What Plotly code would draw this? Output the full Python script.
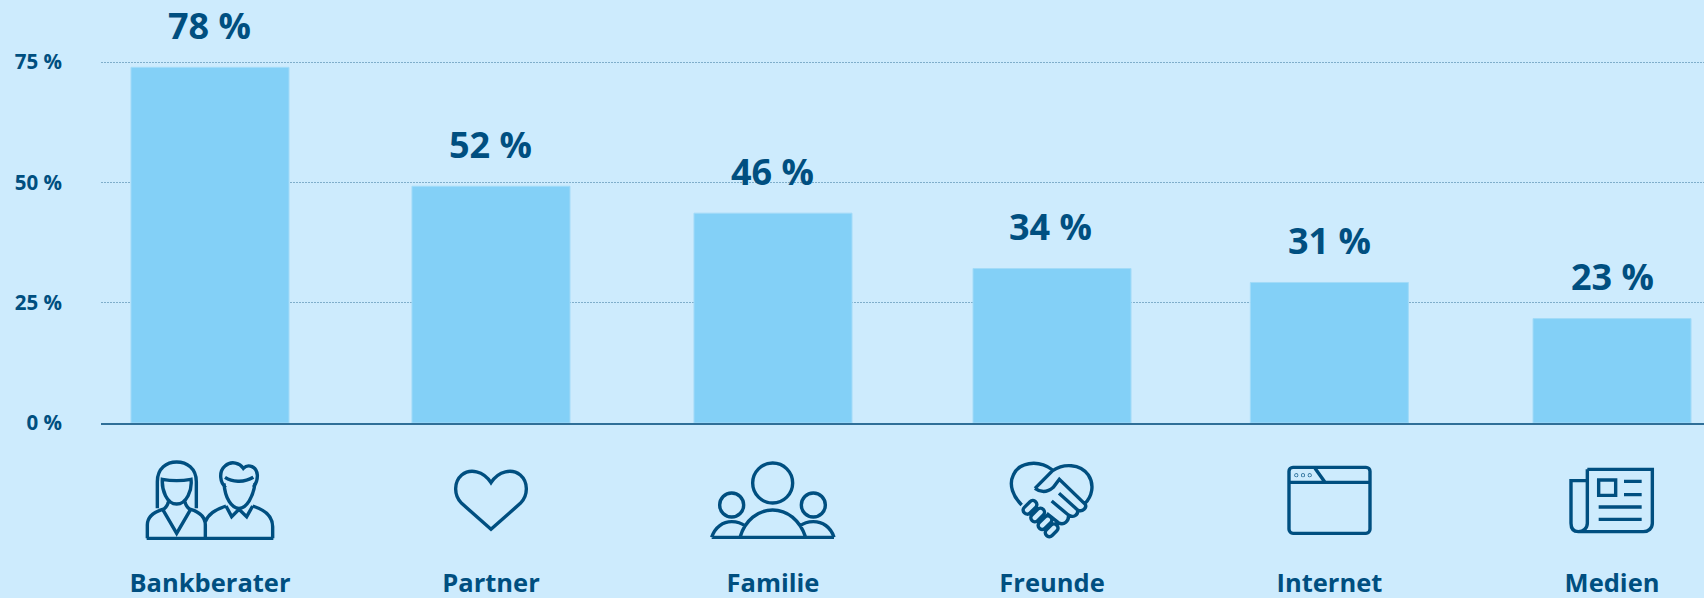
import re
import plotly.graph_objects as go

# ---- data -------------------------------------------------------------
categories = ["Bankberater", "Partner", "Familie", "Freunde", "Internet", "Medien"]
value_labels = ["78 %", "52 %", "46 %", "34 %", "31 %", "23 %"]
# bar heights as drawn in the picture against the gridlines
drawn_values = [73.9, 49.2, 43.6, 32.1, 29.2, 21.7]
y_ticks = [0, 25, 50, 75]

# ---- layout / style constants -----------------------------------------
slots = [0, 1.0021, 2.0078, 3.0029, 3.992, 5.0]
label_nudge = [0, 0, 0, -2, 0, 0]
X_RANGE = [-0.3887, 5.328]
Y_RANGE = [0, 87.9]
BG = "#CDEBFD"
BAR = "#83D0F7"
INK = "#004F80"
FONT = "Open Sans"
W, H = 1704, 598
ML, MB = 101, 175


def tf(path, ox, cx):
    """zoomed-crop coordinates -> pixels relative to the icon anchor (y up)."""
    out = []
    for cmd, args in re.findall(r"([MLCZ])([^MLCZ]*)", path):
        nums = [float(n) for n in args.split()]
        pts = []
        for i in range(0, len(nums), 2):
            px = ox + nums[i] / 3 - cx
            py = -(400 + nums[i + 1] / 3 - 423)
            pts.append(f"{px:.2f},{py:.2f}")
        out.append(cmd + " ".join(pts))
    return " ".join(out)


def circle(cx, cy, r):
    k = 0.5523 * r
    return (f"M{cx-r} {cy} C{cx-r} {cy-k} {cx-k} {cy-r} {cx} {cy-r} "
            f"C{cx+k} {cy-r} {cx+r} {cy-k} {cx+r} {cy} "
            f"C{cx+r} {cy+k} {cx+k} {cy+r} {cx} {cy+r} "
            f"C{cx-k} {cy+r} {cx-r} {cy+k} {cx-r} {cy} Z ")


def rrect(x0, y0, x1, y1, r):
    k = 0.45 * r
    return (f"M{x0+r} {y0} L{x1-r} {y0} C{x1-k} {y0} {x1} {y0+k} {x1} {y0+r} "
            f"L{x1} {y1-r} C{x1} {y1-k} {x1-k} {y1} {x1-r} {y1} "
            f"L{x0+r} {y1} C{x0+k} {y1} {x0} {y1-k} {x0} {y1-r} "
            f"L{x0} {y0+r} C{x0} {y0+k} {x0+k} {y0} {x0+r} {y0} Z ")


def pill(cx, cy, h, r):
    # capsule running along the "/" diagonal
    d = 0.7071
    ax, ay = cx - h * d, cy + h * d
    bx, by = cx + h * d, cy - h * d
    nx, ny = r * d, r * d
    c = 1.3 * r * d
    return (f"M{ax+nx} {ay+ny} L{bx+nx} {by+ny} "
            f"C{bx+nx+c} {by+ny-c} {bx-nx+c} {by-ny-c} {bx-nx} {by-ny} "
            f"L{ax-nx} {ay-ny} "
            f"C{ax-nx-c} {ay-ny+c} {ax+nx-c} {ay+ny+c} {ax+nx} {ay+ny} Z ")


people = (
    "M172 325 L172 245 C172 205 200 186 230 186 C260 186 289 205 289 245 L289 325 "
    "M187 238 C210 242 250 242 273 238 C277 270 260 312 230 312 C200 312 185 270 187 238 Z "
    "M205 305 C203 318 195 325 188 330 M255 305 C257 318 265 325 272 330 "
    "M142 415 L142 375 C142 350 165 335 188 328 L230 400 L272 328 C295 335 316 350 316 375 L316 415 "
    "M140 415 L520 415 "
    "M378 262 C360 250 355 215 375 198 C395 180 420 190 430 205 C445 190 470 200 472 225 C473 245 465 255 460 262 "
    "M375 232 C395 245 430 250 460 232 "
    "M372 250 C375 295 395 325 417 325 C440 325 460 290 465 250 "
    "M378 318 L395 350 L417 328 L440 350 L458 318 "
    "M316 365 C325 340 350 327 378 318 M458 318 C490 328 518 345 518 380 L518 415"
)
heart = (
    "M1173 388 L1085 310 C1060 285 1062 245 1085 225 C1110 205 1150 212 1173 248 "
    "C1196 212 1236 205 1261 225 C1284 245 1286 285 1261 310 Z"
)
family = (
    circle(338, 249, 60) + circle(215, 315, 36) + circle(460, 315, 36) +
    "M155 412 L522 412 "
    "M240 412 C255 360 295 330 338 330 C381 330 420 360 437 412 "
    "M155 412 C165 380 190 365 215 365 C230 365 243 368 255 378 "
    "M522 412 C512 380 487 365 460 365 C445 365 432 368 420 378"
)
handshake = (
    "M1085 315 C1060 290 1045 255 1060 225 C1075 190 1130 175 1178 210 "
    "M1125 265 L1178 212 C1210 190 1260 190 1285 225 C1305 255 1295 290 1275 310 "
    "M1125 265 C1145 280 1165 275 1180 262 L1198 238 L1275 312 C1282 322 1268 338 1253 330 L1197 280 "
    "M1253 330 C1255 345 1240 355 1225 345 L1175 303 "
    "M1225 345 C1228 362 1212 378 1195 368 L1160 340 " +
    pill(1110, 322, 12, 12) + pill(1133, 345, 12, 12) +
    pill(1155, 368, 12, 12) + pill(1175, 391, 10, 12)
)
browser = (
    rrect(207, 202, 450, 400, 12) +
    "M207 247 L450 247 M285 205 L315 247 " +
    circle(229, 226, 1) + circle(249, 226, 1) + circle(269, 226, 1)
)
newspaper = (
    "M1102 208 L1297 208 L1297 370 C1297 385 1285 395 1270 395 L1075 395 "
    "C1060 395 1053 385 1053 370 L1053 242 L1100 242 "
    "M1102 208 L1102 370 C1102 385 1090 395 1075 395 "
    "M1136 240 L1187 240 L1187 286 L1136 286 Z "
    "M1212 244 L1265 244 M1212 284 L1265 284 M1136 321 L1265 321 M1136 358 L1265 358"
)
icons = [(people, 100), (heart, 100), (family, 660), (handshake, 660), (browser, 1220), (newspaper, 1220)]

fig = go.Figure(go.Bar(
    x=slots, y=drawn_values, width=0.5635,
    marker=dict(color=BAR, line=dict(color="#A2DBF8", width=1)),
    hoverinfo="skip",
))

for s, lab, v, n in zip(slots, value_labels, drawn_values, label_nudge):
    fig.add_annotation(x=s, y=v, text=f"<b>{lab}</b>", showarrow=False, yanchor="middle",
                       yshift=42, xshift=n, font=dict(family=FONT, size=36, color=INK))

plot_w = W - ML
for s, (p, ox) in zip(slots, icons):
    cx_px = ML + (s - X_RANGE[0]) / (X_RANGE[1] - X_RANGE[0]) * plot_w
    fig.add_shape(type="path", path=tf(p, ox, cx_px),
                  xref="paper", yref="paper", xsizemode="pixel", ysizemode="pixel",
                  xanchor=(cx_px - ML) / plot_w, yanchor=0,
                  line=dict(color=INK, width=3.4), fillcolor="rgba(0,0,0,0)")

fig.update_layout(
    width=W, height=H, autosize=False,
    margin=dict(l=ML, r=0, t=0, b=MB, pad=0, autoexpand=False),
    paper_bgcolor=BG, plot_bgcolor=BG, showlegend=False,
    font=dict(family=FONT, color=INK),
    xaxis=dict(range=X_RANGE, tickmode="array", tickvals=slots,
               ticktext=[f"<b>{c}</b>" for c in categories],
               ticks="", showgrid=False, zeroline=False, automargin=False,
               showline=True, linecolor="#2F6F98", linewidth=1.5,
               ticklabelstandoff=137, tickangle=0,
               tickfont=dict(family=FONT, size=25.5, color=INK)),
    yaxis=dict(range=Y_RANGE, tickmode="array", tickvals=y_ticks,
               ticktext=[f"<b>{t} %</b>" for t in y_ticks],
               ticks="", showline=False, zeroline=False, automargin=False,
               showgrid=True, gridcolor="#7FAECB", griddash="1.5px,1.5px", gridwidth=1,
               ticklabelstandoff=38,
               tickfont=dict(family=FONT, size=20.5, color=INK)),
)

fig.write_html("out.html", config=dict(displayModeBar=False),
               post_script="document.body.style.margin='0';document.documentElement.style.overflow='hidden';")
